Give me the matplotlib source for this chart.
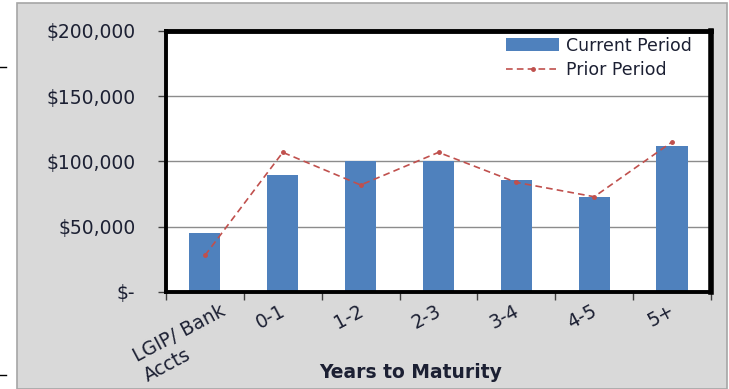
import matplotlib.pyplot as plt
from matplotlib.patches import Rectangle
from matplotlib.lines import Line2D
from matplotlib.ticker import FuncFormatter
from matplotlib.transforms import ScaledTranslation
import numpy as np

# data
categories = ['LGIP/ Bank\nAccts', '0-1', '1-2', '2-3', '3-4', '4-5', '5+']
current_period = [45000, 90000, 100000, 100000, 86000, 73000, 112000]
prior_period = [28000, 107000, 82000, 107000, 84000, 73000, 115000]
y_ticks = [0, 50000, 100000, 150000, 200000]

text_color = '#1c2033'
plt.rcParams['font.family'] = ['DejaVu Sans']

fig = plt.figure(figsize=(7.29, 3.89), dpi=100)
fig.patch.set_facecolor('white')

# gray chart area panel
W, H = 729, 389
panel = Rectangle((17 / W, 0), (727 - 17) / W, (389 - 3) / H, transform=fig.transFigure,
                  facecolor='#d9d9d9', edgecolor='#a6a6a6', linewidth=1.2, zorder=-5)
fig.add_artist(panel)
# small marks on the left edge
for yy in [67, 375]:
    fig.add_artist(Line2D([0, 6 / W], [1 - yy / H, 1 - yy / H], color='black', linewidth=1))

ax = fig.add_axes([166 / W, 1 - 292 / H, (711 - 166) / W, (292 - 31) / H])
ax.set_zorder(2)
ax.set_facecolor('white')

x = np.arange(len(categories))
ax.bar(x, current_period, width=0.40, color='#4f81bd', label='Current Period', zorder=2)
ax.plot(x, prior_period, color='#c0504d', linestyle=(0, (4, 2.5)), linewidth=1.2, marker='o',
        markersize=2.5, label='Prior Period', zorder=3)

ax.set_xlim(-0.5, len(categories) - 0.5)
ax.set_ylim(0, 200000)
ax.set_yticks(y_ticks)
ax.yaxis.set_major_formatter(FuncFormatter(lambda v, p: '$-' if v == 0 else f'${v:,.0f}'))
ax.grid(axis='y', color='#8c8c8c', linewidth=1, zorder=1)
ax.set_axisbelow(True)

# category labels, slanted like the original
ax.set_xticks(x)
ax.set_xticklabels([])
ax.set_xticks(np.arange(-0.5, len(categories)), minor=True)
ax.tick_params(axis='x', which='major', length=0)
ax.tick_params(axis='x', which='minor', length=6, width=1, color='#404040')
for i, lab in enumerate(categories):
    dx, dy = (15, -9) if i == 0 else (-3, -9)
    tr = ax.get_xaxis_transform() + ScaledTranslation(dx / 100, dy / 100, fig.dpi_scale_trans)
    ax.text(x[i], 0, lab, transform=tr, rotation=28, rotation_mode='anchor', ha='right',
            va='top', multialignment='left', linespacing=1.25, fontsize=13.5,
            color=text_color, clip_on=False)

ax.tick_params(axis='y', length=6, width=1, color='#404040', pad=16, labelsize=13.5,
               labelcolor=text_color)

for side in ['left', 'top', 'right', 'bottom']:
    ax.spines[side].set_color('black')
    ax.spines[side].set_linewidth(2.8)
ax.spines['top'].set_linewidth(3.5)
ax.spines['right'].set_linewidth(4)

ax.set_xlabel('Years to Maturity', fontsize=13.5, fontweight='bold', color=text_color)
ax.xaxis.set_label_coords(0.448, -0.307)
ax.xaxis.label.set_va('center')

handles, labels = ax.get_legend_handles_labels()
order = [labels.index('Current Period'), labels.index('Prior Period')]
ax.legend([handles[i] for i in order], [labels[i] for i in order], loc='upper right',
          bbox_to_anchor=(0.972, 0.992), frameon=False, fontsize=12.5, handlelength=3.1,
          handletextpad=0.4, labelspacing=0.35, borderaxespad=0, borderpad=0.2,
          labelcolor=text_color)

fig.savefig('out.png', dpi=100)
